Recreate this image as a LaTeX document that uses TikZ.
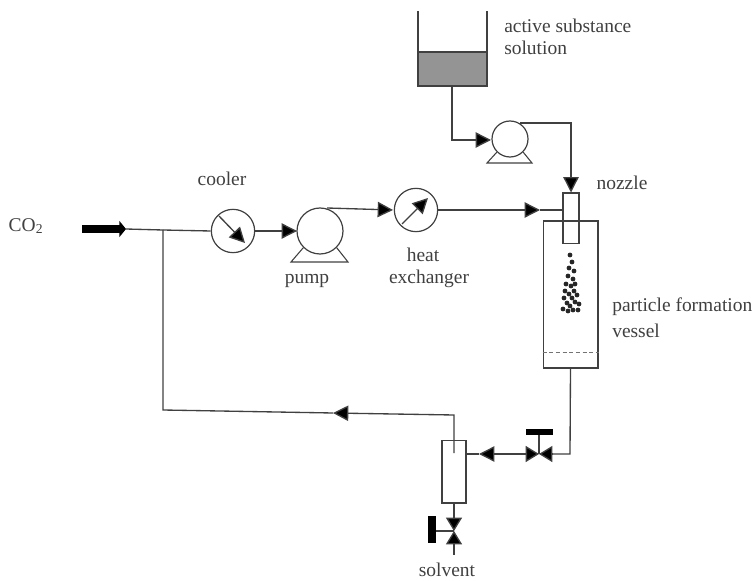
\documentclass[tikz,border=0pt]{standalone}
\usepackage{fontspec}
\setmainfont{Liberation Serif}
\usetikzlibrary{arrows.meta}
\colorlet{ink}{black!75}
\tikzset{
  pipe/.style={draw=ink,line width=1pt},
  flow/.style={pipe,-{Triangle[length=11.5pt,width=11.5pt,fill=black]}},
  valvetip/.style={pipe,-{Triangle[length=10pt,width=12pt,fill=black]}},
  dial/.style={circle,draw=ink,line width=.9pt,fill=white,inner sep=0pt,minimum size=32.5pt},
  pumpbody/.style={circle,draw=ink,line width=.9pt,fill=white,inner sep=0pt},
  unit/.style={rectangle,draw=ink,line width=1pt,inner sep=0pt},
  lbl/.style={text=ink,font=\fontsize{14.6}{16}\selectfont,inner sep=0pt},
  lblleft/.style={lbl,anchor=west}
}
\begin{document}
\begin{tikzpicture}
  [x=.75pt,y=-.75pt]
  \useasboundingbox (0,0) rectangle (754,581);

  % tank
  \fill[black!42] (418,52) rectangle (487,86);
  \draw[pipe] (418,11) -- (418,86) -- (487,86) -- (487,11);
  \draw[pipe] (418,52) -- (487,52);
  \coordinate (tankout) at (452,86);

  % units
  \node[pumpbody,minimum size=27pt] (pump2) at (510,139) {};
  \node[pumpbody,minimum size=34.5pt] (pump1) at (320,231) {};
  \node[dial] (cooler) at (233,231) {};
  \node[dial] (hx) at (416,210) {};
  \node[unit,fill=white,minimum width=41pt,minimum height=110pt] (vessel) at (570.5,294.5) {};
  \node[unit,minimum width=12pt,minimum height=38pt] (nozzle) at (571,218.5) {};
  \node[unit,minimum width=18pt,minimum height=47pt] (sep) at (454,471.5) {};

  % pump feet
  \draw[pipe,line width=.8pt] (pump2.south west) -- (487,163) -- (532,163) -- (pump2.south east);
  \draw[pipe,line width=.8pt] (pump1.south west) -- (291,262) -- (348,262) -- (pump1.south east);

  % dial arrows
  \draw[flow] (219,216) -- (245,243);
  \draw[flow] (402,224) -- (428,198);

  % CO2 inlet
  \coordinate (inlet) at (82,229);
  \coordinate (inlettip) at (126,229);
  \coordinate (tee) at (163,230);
  \draw[black,line width=6pt,-{Triangle[length=5pt,width=12pt]}] (inlet) -- (inlettip);
  \draw[pipe] (inlettip) -- (tee);
  \draw[pipe] (tee) -- (cooler.west);

  % main line
  \coordinate (t1) at (297,231);
  \coordinate (p1out) at (327,208);
  \coordinate (t2) at (393,210);
  \coordinate (t3) at (540,210);
  \draw[flow] (cooler.east) -- (t1);
  \draw[flow] (p1out) -- (t2);
  \draw[flow] (hx.east) -- (t3);
  \draw[pipe] (t3) -- (nozzle.west |- t3);

  % solution line
  \coordinate (bend1) at (452,140);
  \coordinate (p2in) at (491,140);
  \coordinate (p2out) at (520,123);
  \coordinate (bend2) at (571,123);
  \draw[flow] (tankout) -- (bend1) -- (p2in);
  \draw[flow] (p2out) -- (bend2) -- (nozzle.north);

  % vessel outlet and valve
  \coordinate (valve1) at (539,454);
  \coordinate (v1r) at (553,454);
  \coordinate (v1l) at (525,454);
  \coordinate (bend3) at (570,454);
  \coordinate (v1top) at (539,432);
  \coordinate (t4) at (479,454);
  \draw[pipe] (vessel.south) -- (bend3) -- (v1r);
  \draw[valvetip] (v1r) -- (valve1);
  \draw[valvetip] (v1l) -- (valve1);
  \draw[pipe] (valve1) -- (v1top);
  \draw[black,line width=5pt] (526,432) -- (553,432);
  \draw[flow] (v1l) -- (t4);
  \draw[pipe] (t4) -- (sep.east |- t4);

  % dashed level in vessel
  \draw[black!55,densely dashed,line width=.5pt] (vessel.west |- 0,352) -- (vessel.east |- 0,352);

  % recycle line
  \coordinate (dip) at (454,453);
  \coordinate (bend4) at (454,415);
  \coordinate (t5) at (333,413);
  \coordinate (bend5) at (163,410);
  \draw[flow] (dip) -- (bend4) -- (t5);
  \draw[pipe] (t5) -- (bend5) -- (tee);

  % solvent valve
  \coordinate (valve2) at (454,531);
  \coordinate (v2t) at (454,516);
  \coordinate (v2b) at (454,546);
  \coordinate (v2end) at (454,555);
  \draw[pipe] (sep.south) -- (v2t);
  \draw[valvetip] (v2t) -- (valve2);
  \draw[valvetip] (v2b) -- (valve2);
  \draw[pipe] (v2b) -- (v2end);
  \draw[pipe] (valve2) -- (432,531);
  \draw[black,line width=5.5pt] (432,516) -- (432,543);

  % spray
  \foreach \px/\py in {570/255,572/262,569/268,574/271,568/276,573/279,566/284,
                       575/284,571/286,565/291,574/291,569/294,577/295,
                       564/298,572/298,567/303,575/302,570/306,579/304,
                       563/309,573/310,568/311,578/310}
    \fill[black!85] (\px,\py) circle (1.8pt);

  % labels
  \node[lbl] (co2) at (26,226) {CO\textsubscript{2}};
  \node[lbl] (coolerlbl) at (222,179) {cooler};
  \node[lbl] (pumplbl) at (307,281) {pump};
  \node[lbl] (heatlbl) at (423,255) {heat};
  \node[lbl] (exlbl) at (429,279) {exchanger};
  \node[lbl] (nozzlelbl) at (622,183) {nozzle};
  \node[lblleft] (activelbl) at (504,26) {active substance};
  \node[lblleft] (solutionlbl) at (504,48) {solution};
  \node[lblleft] (particlelbl) at (612,307) {particle formation};
  \node[lblleft] (vessellbl) at (612,331) {vessel};
  \node[lbl] (solventlbl) at (447,570) {solvent};
\end{tikzpicture}
\end{document}
